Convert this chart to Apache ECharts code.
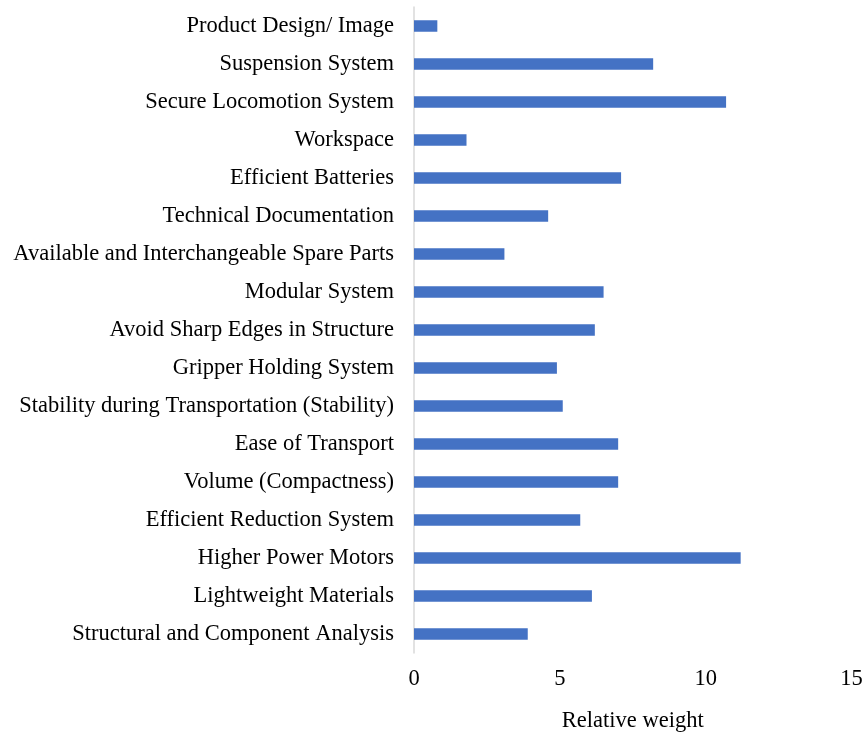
<!DOCTYPE html>
<html>
<head>
<meta charset="utf-8">
<script src="https://cdn.jsdelivr.net/npm/echarts@6/dist/echarts.min.js"></script>
<style>html,body{margin:0;padding:0;background:#fff}#c{width:862px;height:732px}</style>
</head>
<body>
<div id="c"></div>
<script>
// Categories listed top to bottom
var categories = [
  "Product Design/ Image",
  "Suspension System",
  "Secure Locomotion System",
  "Workspace",
  "Efficient Batteries",
  "Technical Documentation",
  "Available and Interchangeable Spare Parts",
  "Modular System",
  "Avoid Sharp Edges in Structure",
  "Gripper Holding System",
  "Stability during Transportation (Stability)",
  "Ease of Transport",
  "Volume (Compactness)",
  "Efficient Reduction System",
  "Higher Power Motors",
  "Lightweight Materials",
  "Structural and Component Analysis"
];
var weights = [0.8, 8.2, 10.7, 1.8, 7.1, 4.6, 3.1, 6.5, 6.2, 4.9, 5.1, 7.0, 7.0, 5.7, 11.2, 6.1, 3.9];
var xTicks = [0, 5, 10, 15];
var xAxisName = "Relative weight";

var chart = echarts.init(document.getElementById('c'), null, {renderer: 'canvas'});
var font = '"Liberation Serif", "Times New Roman", serif';
chart.setOption({
  animation: false,
  backgroundColor: '#ffffff',
  textStyle: {fontFamily: font},
  grid: {left: 414, right: 10.5, top: 7, bottom: 79, containLabel: false, outerBoundsMode: 'none'},
  xAxis: {
    type: 'value',
    min: xTicks[0],
    max: xTicks[xTicks.length - 1],
    interval: xTicks[1] - xTicks[0],
    name: xAxisName,
    nameLocation: 'middle',
    nameGap: 57,
    nameTextStyle: {fontFamily: font, fontSize: 22.5, color: '#000'},
    axisLine: {show: false},
    axisTick: {show: false},
    splitLine: {show: false},
    axisLabel: {fontFamily: font, fontSize: 22.5, color: '#000', margin: 15}
  },
  yAxis: {
    type: 'category',
    inverse: true,
    data: categories,
    axisLine: {show: true, lineStyle: {color: '#d9d9d9', width: 1.5}},
    axisTick: {show: false},
    axisLabel: {fontFamily: font, fontSize: 22.5, color: '#000', margin: 20, interval: 0}
  },
  series: [{
    type: 'bar',
    data: weights,
    barWidth: 11.5,
    itemStyle: {color: '#4472C4'}
  }]
});
</script>
</body>
</html>
